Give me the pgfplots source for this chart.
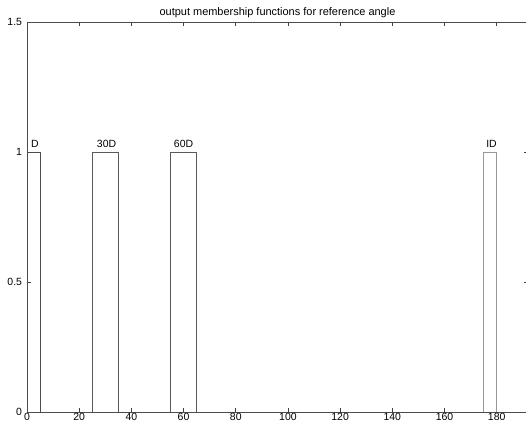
\documentclass[border=0pt]{standalone}
\usepackage{fontspec}
\setmainfont{Liberation Sans}
\usepackage{pgfplots}
\pgfplotsset{compat=1.18}
\begin{document}
\begin{tikzpicture}[x=1bp,y=1bp]
\begin{axis}[
    at={(0,0)}, anchor=south west,
    scale only axis,
    width=501bp, height=390bp,
    xmin=0, xmax=192,
    ymin=0, ymax=1.5,
    xtick={0,20,...,180},
    ytick={0,0.5,1,1.5},
    yticklabels={0,0.5,1,1.5},
    tick align=inside,
    tickpos=both,
    major tick length=4bp,
    tick style={black!75, line width=0.6pt},
    axis line style={black!70, line width=0.6pt},
    tick label style={font=\fontsize{10.5}{11}\selectfont},
    /pgf/number format/assume math mode=true,
    xticklabel style={yshift=2bp},
    yticklabel style={xshift=-1.5bp},
    title={output membership functions for reference angle},
    title style={font=\fontsize{11}{12}\selectfont, yshift=-5bp},
    clip=false,
]
\addplot[black!70, line width=0.8pt] coordinates {(0,0) (0,1) (5,1) (5,0)};
\addplot[black!65, line width=0.8pt] coordinates {(25,0) (25,1) (35,1) (35,0)};
\addplot[black!65, line width=0.8pt] coordinates {(55,0) (55,1) (65,1) (65,0)};
\addplot[black!40, line width=0.8pt] coordinates {(175,0) (175,1) (180,1) (180,0)};
\node[font=\fontsize{10.5}{11}\selectfont, anchor=south] at (axis cs:3,1.005) {D};
\node[font=\fontsize{10.5}{11}\selectfont, anchor=south] at (axis cs:30.5,1.005) {30D};
\node[font=\fontsize{10.5}{11}\selectfont, anchor=south] at (axis cs:60,1.005) {60D};
\node[font=\fontsize{10.5}{11}\selectfont, anchor=south] at (axis cs:178,1.005) {ID};
\end{axis}
\pgfresetboundingbox
\useasboundingbox (-27,-20) rectangle (499,412);
\end{tikzpicture}
\end{document}
